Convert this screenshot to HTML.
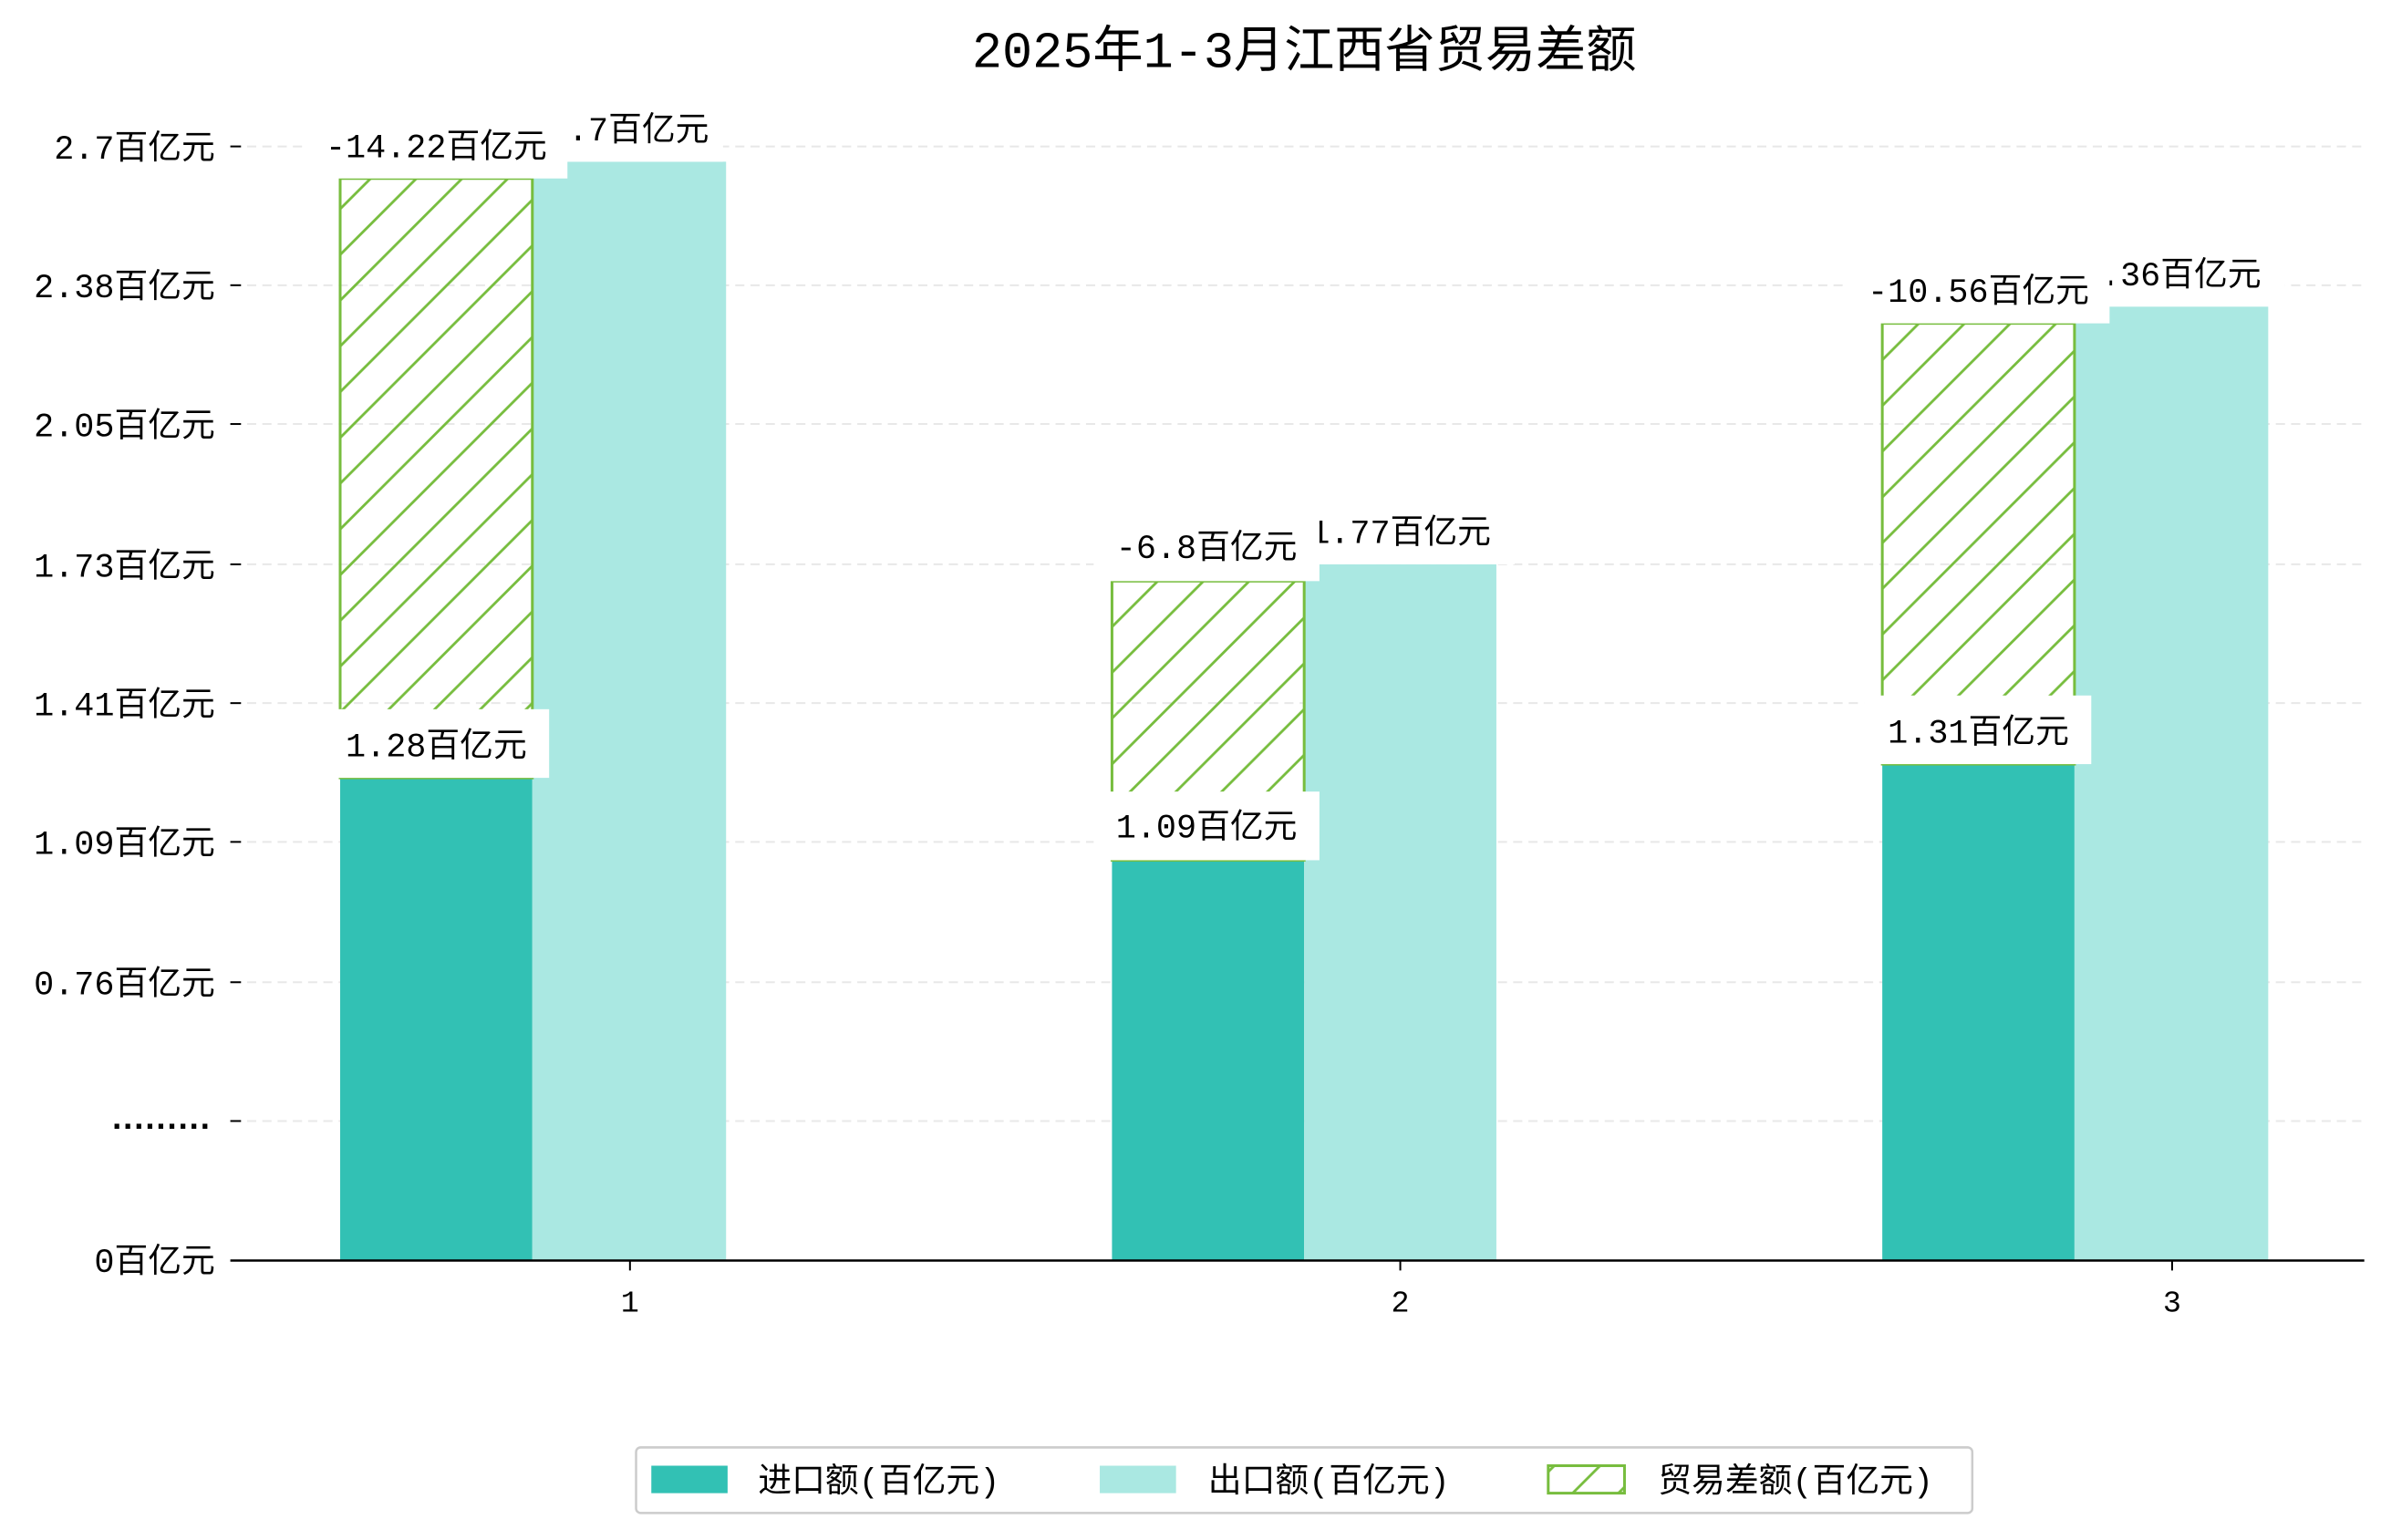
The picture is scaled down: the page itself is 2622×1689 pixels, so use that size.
<!DOCTYPE html>
<html><head><meta charset="utf-8"><style>
html,body{margin:0;padding:0;background:#fff;}
svg{display:block;}
text{font-family:"Liberation Mono","WenQuanYi Zen Hei","Noto Sans CJK SC",monospace;fill:#000;}
</style></head><body>
<svg width="2622" height="1689" viewBox="0 0 1567.5 1009.7" xmlns="http://www.w3.org/2000/svg">
<defs>
<pattern id="h" patternUnits="userSpaceOnUse" width="30" height="30">
<path d="M-6,6 L6,-6 M0,30 L30,0 M24,36 L36,24" stroke="#77bd3e" stroke-width="1.7"/>
</pattern>
</defs>
<text x="855" y="44" font-size="33" text-anchor="middle">2025年1-3月江西省贸易差额</text>
<g stroke="#e8e8e8" stroke-width="1.2" stroke-dasharray="6,4">
<line x1="152" x2="1550" y1="96" y2="96"/><line x1="152" x2="1550" y1="187" y2="187"/>
<line x1="152" x2="1550" y1="278" y2="278"/><line x1="152" x2="1550" y1="370" y2="370"/>
<line x1="152" x2="1550" y1="461" y2="461"/><line x1="152" x2="1550" y1="552" y2="552"/>
<line x1="152" x2="1550" y1="644" y2="644"/><line x1="152" x2="1550" y1="735" y2="735"/>
</g>
<g stroke="#000" stroke-width="1.2">
<line x1="151" x2="158" y1="96" y2="96"/><line x1="151" x2="158" y1="187" y2="187"/>
<line x1="151" x2="158" y1="278" y2="278"/><line x1="151" x2="158" y1="370" y2="370"/>
<line x1="151" x2="158" y1="461" y2="461"/><line x1="151" x2="158" y1="552" y2="552"/>
<line x1="151" x2="158" y1="644" y2="644"/><line x1="151" x2="158" y1="735" y2="735"/>
</g>
<g font-size="22" text-anchor="end">
<text x="141" y="104">2.7百亿元</text><text x="141" y="195">2.38百亿元</text>
<text x="141" y="286">2.05百亿元</text><text x="141" y="378">1.73百亿元</text>
<text x="141" y="469">1.41百亿元</text><text x="141" y="560">1.09百亿元</text>
<text x="141" y="652">0.76百亿元</text>
<text x="141" y="834">0百亿元</text>
</g>
<text x="70" y="740" font-size="22" font-weight="bold" textLength="71" lengthAdjust="spacing">.........</text>
<rect x="223" y="510" width="126" height="316" fill="#32c1b4"/>
<rect x="349" y="106" width="127" height="720" fill="#aae8e2"/>
<rect x="223" y="117" width="126" height="393" fill="url(#h)" stroke="#77bd3e" stroke-width="1.8"/>
<rect x="729" y="564" width="126" height="262" fill="#32c1b4"/>
<rect x="855" y="370" width="126" height="456" fill="#aae8e2"/>
<rect x="729" y="381" width="126" height="183" fill="url(#h)" stroke="#77bd3e" stroke-width="1.8"/>
<rect x="1234" y="501" width="126" height="325" fill="#32c1b4"/>
<rect x="1360" y="201" width="127" height="625" fill="#aae8e2"/>
<rect x="1234" y="212" width="126" height="289" fill="url(#h)" stroke="#77bd3e" stroke-width="1.8"/>
<g font-size="22" text-anchor="middle">
<rect x="350" y="64" width="124" height="42" fill="#fff"/><text x="412" y="92">2.7百亿元</text>
<rect x="200" y="75" width="172" height="42" fill="#fff"/><text x="286" y="103">-14.22百亿元</text>
<rect x="211" y="465" width="149" height="45" fill="#fff"/><text x="286" y="496">1.28百亿元</text>
<rect x="843" y="328" width="150" height="42" fill="#fff"/><text x="918" y="356">1.77百亿元</text>
<rect x="717" y="339" width="148" height="42" fill="#fff"/><text x="791" y="366">-6.8百亿元</text>
<rect x="717" y="519" width="148" height="45" fill="#fff"/><text x="791" y="549">1.09百亿元</text>
<rect x="1348" y="159" width="150" height="42" fill="#fff"/><text x="1423" y="187">2.36百亿元</text>
<rect x="1211" y="170" width="172" height="42" fill="#fff"/><text x="1297" y="198">-10.56百亿元</text>
<rect x="1222" y="456" width="149" height="45" fill="#fff"/><text x="1297" y="487">1.31百亿元</text>
</g>
<line x1="151" x2="1550" y1="826.5" y2="826.5" stroke="#000" stroke-width="1.5"/>
<g stroke="#000" stroke-width="1.2">
<line x1="413" x2="413" y1="826" y2="833"/><line x1="918" x2="918" y1="826" y2="833"/><line x1="1424" x2="1424" y1="826" y2="833"/>
</g>
<g font-size="20" text-anchor="middle">
<text x="413" y="860">1</text><text x="918" y="860">2</text><text x="1424" y="860">3</text>
</g>
<rect x="417" y="949" width="876" height="43" rx="3" fill="#fff" stroke="#cccccc" stroke-width="1.5"/>
<rect x="427" y="961" width="50" height="18" fill="#32c1b4"/>
<rect x="721" y="961" width="50" height="18" fill="#aae8e2"/>
<rect x="1015" y="961" width="50" height="18" fill="url(#h)" stroke="#77bd3e" stroke-width="1.8"/>
<g font-size="22">
<text x="497" y="978">进口额(百亿元)</text>
<text x="792" y="978">出口额(百亿元)</text>
<text x="1087" y="978">贸易差额(百亿元)</text>
</g>
</svg>
</body></html>
